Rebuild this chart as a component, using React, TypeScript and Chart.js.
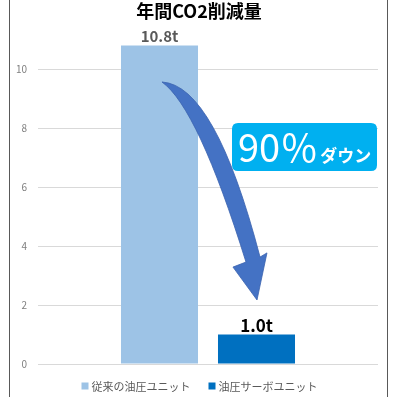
import React, { useEffect, useRef } from "react";
import { Chart, registerables } from "chart.js";

Chart.register(...registerables);

const categories = [""];
const seriesNames = ["従来の油圧ユニット", "油圧サーボユニット"];
const conventionalValues = [10.8];
const servoValues = [1.0];
const seriesColors = ["#9DC3E6", "#0070C0"];
const yTickValues = [0, 2, 4, 6, 8, 10];
const titleText = "年間CO2削減量";
const badgeMain = "90％";
const badgeSub = "ダウン";
const unitSuffix = "t";

const FONT = '"Noto Sans CJK JP", "Noto Sans", sans-serif';

const decorPlugin = {
  id: "decor",
  afterDatasetsDraw(chart: any) {
    const ctx = chart.ctx as CanvasRenderingContext2D;
    const { chartArea, scales } = chart;
    const ys = scales.y;
    const b0 = chart.getDatasetMeta(0).data[0];
    const b1 = chart.getDatasetMeta(1).data[0];
    const v0 = chart.data.datasets[0].data[0];
    const v1 = chart.data.datasets[1].data[0];

    ctx.save();
    // title
    ctx.textAlign = "center";
    ctx.textBaseline = "middle";
    ctx.fillStyle = "#000000";
    ctx.font = `bold 18px ${FONT}`;
    ctx.fillText(titleText, chart.width / 2 + 1, 11);

    // value labels
    ctx.fillStyle = "#595959";
    ctx.font = `bold 15px ${FONT}`;
    ctx.fillText(`${Number(v0).toFixed(1)}${unitSuffix}`, b0.x, b0.y - 9);
    ctx.fillStyle = "#000000";
    ctx.font = `bold 17px ${FONT}`;
    ctx.fillText(`${Number(v1).toFixed(1)}${unitSuffix}`, b1.x, b1.y - 9);

    // curved arrow from bar 1 to bar 2
    const sx = b0.x + 2.5;
    const sy = ys.getPixelForValue(9.56);
    const ex = b1.x + 0.5;
    const ey = ys.getPixelForValue(2.17);
    const dx = ex - sx;
    const dy = ey - sy;
    const P = (u: number, v: number): [number, number] => [sx + u * dx, sy + v * dy];
    ctx.beginPath();
    ctx.moveTo(...P(0, 0));
    ctx.quadraticCurveTo(...P(0.558, 0.014), ...P(1.032, 0.803));
    ctx.lineTo(...P(1.105, 0.784));
    ctx.lineTo(...P(1, 1));
    ctx.lineTo(...P(0.747, 0.849));
    ctx.lineTo(...P(0.884, 0.826));
    ctx.quadraticCurveTo(...P(0.379, 0.119), ...P(0, 0));
    ctx.closePath();
    ctx.fillStyle = "#4472C4";
    ctx.fill();
    ctx.strokeStyle = "#3A62AE";
    ctx.lineWidth = 0.8;
    ctx.stroke();

    // badge
    const bRight = chartArea.right - 1;
    const bLeft = bRight - 145;
    const bTop = ys.getPixelForValue(8.17);
    const bBottom = ys.getPixelForValue(6.54);
    const r = 6;
    ctx.beginPath();
    ctx.moveTo(bLeft + r, bTop);
    ctx.lineTo(bRight - r, bTop);
    ctx.quadraticCurveTo(bRight, bTop, bRight, bTop + r);
    ctx.lineTo(bRight, bBottom - r);
    ctx.quadraticCurveTo(bRight, bBottom, bRight - r, bBottom);
    ctx.lineTo(bLeft + r, bBottom);
    ctx.quadraticCurveTo(bLeft, bBottom, bLeft, bBottom - r);
    ctx.lineTo(bLeft, bTop + r);
    ctx.quadraticCurveTo(bLeft, bTop, bLeft + r, bTop);
    ctx.closePath();
    ctx.fillStyle = "#00B0F0";
    ctx.fill();

    ctx.fillStyle = "#FFFFFF";
    ctx.textAlign = "left";
    ctx.textBaseline = "alphabetic";
    ctx.font = `38px ${FONT}`;
    const baseY = bBottom - 9;
    ctx.fillText(badgeMain, bLeft + 6, baseY);
    const w = ctx.measureText(badgeMain).width;
    ctx.font = `bold 17px ${FONT}`;
    ctx.fillText(badgeSub, bLeft + 8 + w, baseY);
    ctx.restore();
  },
  afterDraw(chart: any) {
    const ctx = chart.ctx as CanvasRenderingContext2D;
    ctx.save();
    // frame lines
    ctx.strokeStyle = "#595959";
    ctx.lineWidth = 1;
    ctx.beginPath();
    ctx.moveTo(9.5, 0);
    ctx.lineTo(9.5, chart.height);
    ctx.moveTo(chart.width - 8.5, 0);
    ctx.lineTo(chart.width - 8.5, chart.height);
    ctx.stroke();

    // legend
    const ds = chart.data.datasets;
    ctx.font = `11px ${FONT}`;
    ctx.textBaseline = "middle";
    ctx.textAlign = "left";
    const box = 7;
    const gap = 3;
    const spacing = 18;
    const widths = ds.map((d: any) => box + gap + ctx.measureText(d.label).width);
    const total = widths.reduce((a: number, b: number) => a + b, 0) + spacing * (ds.length - 1);
    let x = chart.width / 2 + 1.5 - total / 2;
    const ly = 386;
    ds.forEach((d: any, i: number) => {
      ctx.fillStyle = d.backgroundColor;
      ctx.fillRect(x, ly - box / 2, box, box);
      ctx.fillStyle = "#595959";
      ctx.fillText(d.label, x + box + gap, ly + 0.5);
      x += widths[i] + spacing;
    });
    ctx.restore();
  },
};

export default function App() {
  const ref = useRef<HTMLCanvasElement | null>(null);
  useEffect(() => {
    if (!ref.current) return;
    const chart = new Chart(ref.current, {
      type: "bar",
      data: {
        labels: categories,
        datasets: [
          {
            label: seriesNames[0],
            data: conventionalValues,
            backgroundColor: seriesColors[0],
            barPercentage: 0.794,
            categoryPercentage: 0.5706,
          },
          {
            label: seriesNames[1],
            data: servoValues,
            backgroundColor: seriesColors[1],
            barPercentage: 0.794,
            categoryPercentage: 0.5706,
          },
        ],
      },
      options: {
        responsive: false,
        animation: false,
        layout: { padding: { left: 0, right: 18, top: 39.5, bottom: 0 } },
        plugins: {
          legend: { display: false },
          tooltip: { enabled: false },
          title: { display: false },
        },
        scales: {
          x: {
            grid: { display: false },
            border: { display: false },
            ticks: { display: false },
            afterFit: (s: any) => {
              s.height = 33;
            },
          },
          y: {
            min: 0,
            max: 11,
            afterBuildTicks: (s: any) => {
              s.ticks = yTickValues.map((v) => ({ value: v }));
            },
            afterFit: (s: any) => {
              s.width = 38;
            },
            grid: { color: "#D9D9D9", drawTicks: false, lineWidth: 1 },
            border: { display: false },
            ticks: {
              padding: 11,
              color: "#7F7F7F",
              font: { family: FONT, size: 10 },
            },
          },
        },
      },
      plugins: [decorPlugin],
    } as any);
    return () => chart.destroy();
  }, []);
  return (
    <div style={{ position: "fixed", left: 0, top: 0, width: 396, height: 397, background: "#fff" }}>
      <canvas ref={ref} width={396} height={397} style={{ display: "block" }} />
    </div>
  );
}
